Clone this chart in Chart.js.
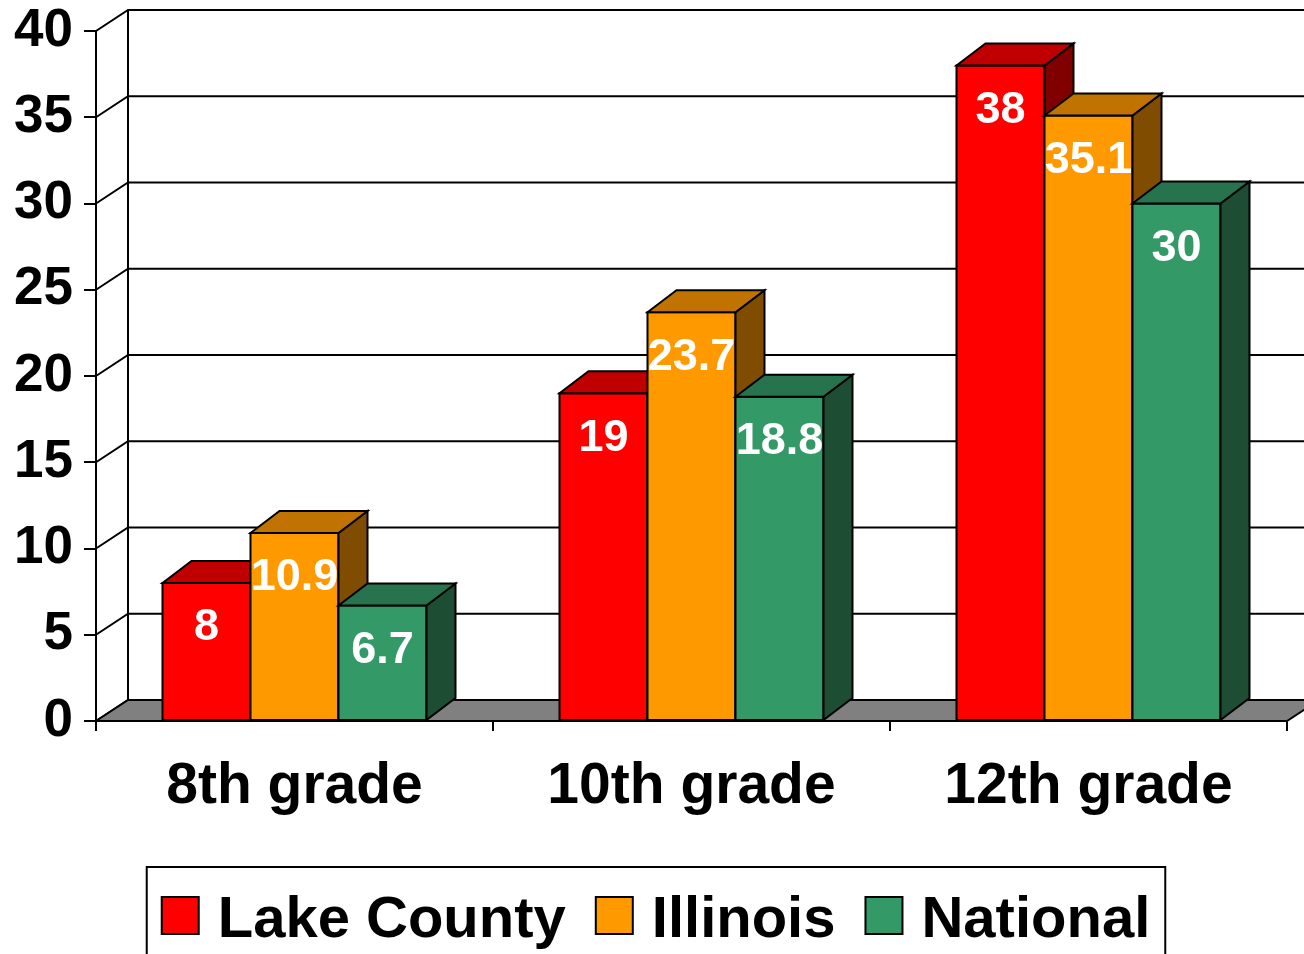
<!DOCTYPE html>
<html>
<head>
<meta charset="utf-8">
<script src="https://cdn.jsdelivr.net/npm/chart.js@4"></script>
<style>
  html, body { margin: 0; padding: 0; background: #ffffff; }
  #wrap { width: 1304px; height: 954px; overflow: hidden; }
</style>
</head>
<body>
<div id="wrap"><canvas id="c" width="1304" height="954"></canvas></div>
<script>
// ---- data ----
const categories = ['8th grade', '10th grade', '12th grade'];
const seriesNames = ['Lake County', 'Illinois', 'National'];
const lakeCounty = [8, 19, 38];
const illinois = [10.9, 23.7, 35.1];
const national = [6.7, 18.8, 30];
const yMin = 0, yMax = 40, yStep = 5;

// ---- styles ----
const FONT = '"Liberation Sans", Arial, Helvetica, sans-serif';
const frontColors = ['#FF0000', '#FF9900', '#339966'];
const topColors = ['#C00000', '#C07300', '#26734D'];
const sideColors = ['#800000', '#804D00', '#1D4D33'];
const WALL_DX = 32, WALL_DY = -21;
const BAR_DX = 29, BAR_DY = -22;

const seriesValues = [lakeCounty, illinois, national];

const bar3d = {
  id: 'bar3d',
  beforeDatasetsDraw(chart) {
    const { ctx, chartArea: { left, right }, scales: { y } } = chart;
    ctx.save();
    ctx.lineWidth = 2;
    ctx.strokeStyle = '#000';
    ctx.lineJoin = 'miter';
    // back wall grid lines + left wall diagonals
    y.ticks.forEach(t => {
      const py = y.getPixelForValue(t.value);
      ctx.beginPath();
      ctx.moveTo(left, py);
      ctx.lineTo(left + WALL_DX, py + WALL_DY);
      ctx.lineTo(chart.width + 5, py + WALL_DY);
      ctx.stroke();
    });
    // back wall vertical edge
    ctx.beginPath();
    ctx.moveTo(left + WALL_DX, y.getPixelForValue(yMax) + WALL_DY);
    ctx.lineTo(left + WALL_DX, y.getPixelForValue(yMin) + WALL_DY);
    ctx.stroke();
    // floor
    const b = y.getPixelForValue(yMin);
    ctx.beginPath();
    ctx.moveTo(left, b);
    ctx.lineTo(left + WALL_DX, b + WALL_DY);
    ctx.lineTo(right + WALL_DX, b + WALL_DY);
    ctx.lineTo(right, b);
    ctx.closePath();
    ctx.fillStyle = '#808080';
    ctx.fill();
    ctx.stroke();
    ctx.restore();
  },
  afterDatasetsDraw(chart) {
    const { ctx } = chart;
    ctx.save();
    ctx.lineWidth = 2;
    ctx.strokeStyle = '#000';
    ctx.lineJoin = 'miter';
    const nCat = chart.data.labels.length;
    const metas = chart.data.datasets.map((d, i) => chart.getDatasetMeta(i));
    for (let c = 0; c < nCat; c++) {
      metas.forEach((meta, d) => {
        const el = meta.data[c];
        const p = el.getProps(['x', 'y', 'base', 'width'], true);
        const L = p.x - p.width / 2, R = p.x + p.width / 2, T = p.y, B = p.base;
        // front
        ctx.fillStyle = frontColors[d];
        ctx.fillRect(L, T, R - L, B - T);
        ctx.strokeRect(L, T, R - L, B - T);
        // side
        ctx.beginPath();
        ctx.moveTo(R, T);
        ctx.lineTo(R + BAR_DX, T + BAR_DY);
        ctx.lineTo(R + BAR_DX, B + BAR_DY);
        ctx.lineTo(R, B);
        ctx.closePath();
        ctx.fillStyle = sideColors[d];
        ctx.fill();
        ctx.stroke();
        // top
        ctx.beginPath();
        ctx.moveTo(L, T);
        ctx.lineTo(L + BAR_DX, T + BAR_DY);
        ctx.lineTo(R + BAR_DX, T + BAR_DY);
        ctx.lineTo(R, T);
        ctx.closePath();
        ctx.fillStyle = topColors[d];
        ctx.fill();
        ctx.stroke();
      });
    }
    // value labels
    ctx.fillStyle = '#FFFFFF';
    ctx.font = 'bold 45px ' + FONT;
    ctx.textAlign = 'center';
    ctx.textBaseline = 'middle';
    metas.forEach((meta, d) => {
      meta.data.forEach((el, c) => {
        const p = el.getProps(['x', 'y'], true);
        ctx.fillText(String(chart.data.datasets[d].data[c]), p.x, p.y + 45);
      });
    });
    ctx.restore();
  },
  afterDraw(chart) {
    // legend (boxes + names), with a framed border
    const { ctx } = chart;
    ctx.save();
    ctx.font = 'bold 58px ' + FONT;
    const BOX = 37, GAP_BT = 19, GAP_ITEM = 30;
    const widths = seriesNames.map(n => ctx.measureText(n).width);
    const total = widths.reduce((a, w) => a + w, 0) + seriesNames.length * (BOX + GAP_BT) + (seriesNames.length - 1) * GAP_ITEM;
    let x = 656 - total / 2;
    const baseline = 937;
    const start = x;
    seriesNames.forEach((name, i) => {
      ctx.fillStyle = frontColors[i];
      ctx.fillRect(x, baseline - 40, BOX, BOX);
      ctx.lineWidth = 2;
      ctx.strokeStyle = '#000';
      ctx.strokeRect(x, baseline - 40, BOX, BOX);
      x += BOX + GAP_BT;
      ctx.fillStyle = '#000';
      ctx.textAlign = 'left';
      ctx.textBaseline = 'alphabetic';
      ctx.fillText(name, x, baseline);
      x += widths[i] + GAP_ITEM;
    });
    const end = x - GAP_ITEM;
    ctx.lineWidth = 2;
    ctx.strokeStyle = '#000';
    ctx.strokeRect(start - 15, 867, (end + 15) - (start - 15), chart.height + 20 - 867);
    ctx.restore();
  }
};

const yTickValues = [];
for (let v = yMin; v <= yMax; v += yStep) yTickValues.push(v);

new Chart(document.getElementById('c'), {
  type: 'bar',
  data: {
    labels: categories,
    datasets: seriesNames.map((name, i) => ({
      label: name,
      data: seriesValues[i],
      backgroundColor: frontColors[i],
      borderColor: '#000',
      borderWidth: 2,
      borderSkipped: false,
      categoryPercentage: 0.665,
      barPercentage: 1.0
    }))
  },
  options: {
    responsive: false,
    animation: false,
    devicePixelRatio: 1,
    layout: { padding: { top: 31, right: 17, left: 0, bottom: 83 } },
    plugins: {
      legend: { display: false },
      tooltip: { enabled: false }
    },
    scales: {
      x: {
        grid: { display: true, drawOnChartArea: false, drawTicks: true, tickLength: 10, color: '#000', lineWidth: 2, offset: true },
        border: { display: true, color: '#000', width: 2 },
        ticks: { font: { family: FONT, size: 57, weight: 'bold', lineHeight: 1.2 }, color: '#000', padding: 22, maxRotation: 0 },
        afterFit(s) { s.height = 150; }
      },
      y: {
        min: yMin, max: yMax,
        afterBuildTicks(s) { s.ticks = yTickValues.map(v => ({ value: v })); },
        grid: { display: true, drawOnChartArea: false, drawTicks: true, tickLength: 12, color: '#000', lineWidth: 2 },
        border: { display: true, color: '#000', width: 2 },
        ticks: { font: { family: FONT, size: 53, weight: 'bold', lineHeight: 1.0 }, color: '#000', padding: 11 },
        afterFit(s) { s.width = 96; s.paddingTop = 0; s.paddingBottom = 0; }
      }
    }
  },
  plugins: [bar3d]
});
</script>
</body>
</html>
